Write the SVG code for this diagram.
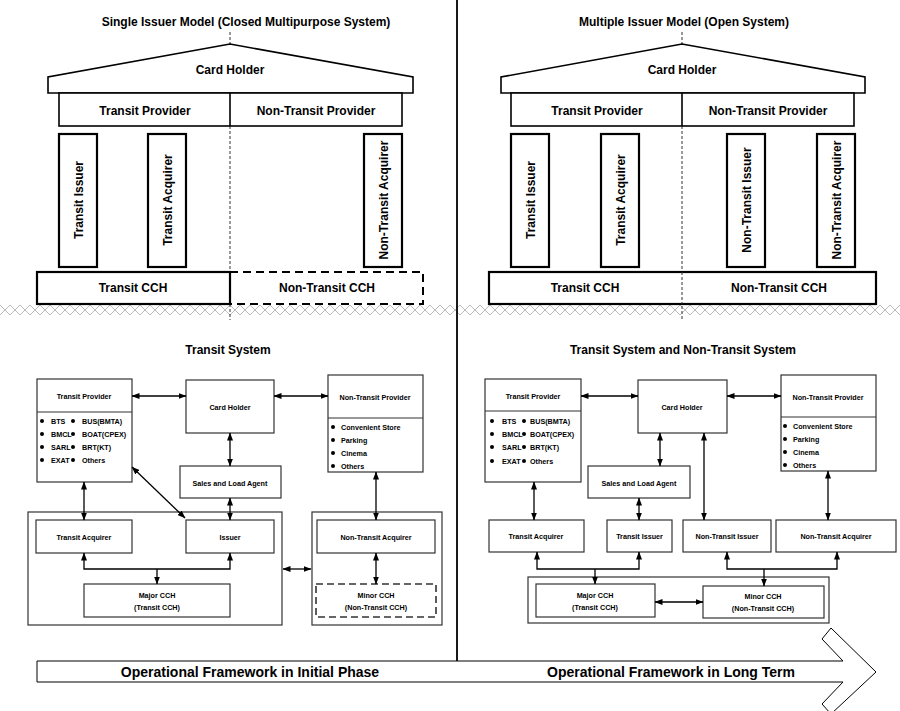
<svg xmlns="http://www.w3.org/2000/svg" width="900" height="711" viewBox="0 0 900 711">
<style>
text{font-family:"Liberation Sans",Arial,sans-serif;fill:#000}
.t12{font-size:12px;font-weight:bold;text-anchor:middle}
.t14{font-size:14px;font-weight:bold;text-anchor:middle}
.s{font-size:7.2px;font-weight:bold;text-anchor:middle}
.l{font-size:7.2px;font-weight:bold}
.thick{fill:#fff;stroke:#000;stroke-width:1.6}
.pil{fill:#fff;stroke:#000;stroke-width:2.2}
.box{fill:#fff;stroke:#333;stroke-width:1.2}
.dash{fill:none;stroke:#000;stroke-width:2;stroke-dasharray:8,5}
.cdash{fill:none;stroke:#333;stroke-width:1;stroke-dasharray:3,2}
.con{fill:none;stroke:#000;stroke-width:1.3}
.dot{fill:#000}
</style>
<defs>
<marker id="ah" markerUnits="userSpaceOnUse" markerWidth="8" markerHeight="6" refX="7.5" refY="3" orient="auto-start-reverse">
<path d="M0,0 L8,3 L0,6 z" fill="#000"/>
</marker>
<pattern id="zig" patternUnits="userSpaceOnUse" x="0" y="304" width="20" height="12">
<path d="M0,1 L10,11 L20,1 M0,11 L10,1 L20,11" fill="none" stroke="#aaa" stroke-width="0.8"/>
</pattern>
</defs>

<!-- background separators -->
<rect x="0" y="304" width="900" height="12" fill="url(#zig)"/>
<line x1="457" y1="0" x2="457" y2="661" stroke="#000" stroke-width="1.8"/>

<!-- ===== Top left: Single Issuer Model ===== -->
<g id="title-single"><text class="t12" x="246" y="26">Single Issuer Model (Closed Multipurpose System)</text></g>
<g id="axis-left">
<line class="cdash" x1="230" y1="32" x2="230" y2="44"/>
<line class="cdash" x1="230" y1="126" x2="230" y2="272"/>
<line class="cdash" x1="230" y1="304" x2="230" y2="320"/>
</g>
<g id="roof-left"><polygon class="thick" points="48,93 48,77 230,44 413,77 413,93"/><text class="t12" x="230" y="74">Card Holder</text></g>
<g id="providers-left">
<rect class="thick" x="59" y="93" width="343" height="33"/>
<line x1="230" y1="93" x2="230" y2="126" stroke="#000" stroke-width="1.6"/>
<text class="t12" x="145" y="115">Transit Provider</text>
<text class="t12" x="316" y="115">Non-Transit Provider</text>
</g>
<g id="pillar-l-ti"><rect class="pil" x="59" y="134" width="38" height="133"/><text class="t12" x="78" y="205" transform="rotate(-90 78 200)">Transit Issuer</text></g>
<g id="pillar-l-ta"><rect class="pil" x="148" y="134" width="38" height="133"/><text class="t12" x="167" y="205" transform="rotate(-90 167 200)">Transit Acquirer</text></g>
<g id="pillar-l-nta"><rect class="pil" x="364" y="134" width="38" height="133"/><text class="t12" x="383" y="205" transform="rotate(-90 383 200)">Non-Transit Acquirer</text></g>
<g id="cch-left">
<rect class="pil" x="37" y="272" width="193" height="32"/>
<text class="t12" x="133" y="292">Transit CCH</text>
</g>
<g id="ntcch-left">
<path class="dash" d="M230,272 H423 V304 H230"/>
<text class="t12" x="327" y="292">Non-Transit CCH</text>
</g>

<!-- ===== Top right: Multiple Issuer Model ===== -->
<g id="title-multi"><text class="t12" x="684" y="26">Multiple Issuer Model (Open System)</text></g>
<g id="axis-right">
<line class="cdash" x1="682" y1="32" x2="682" y2="44"/>
<line class="cdash" x1="682" y1="126" x2="682" y2="320"/>
</g>
<g id="roof-right"><polygon class="thick" points="501,93 501,77 682,44 865,77 865,93"/><text class="t12" x="682" y="74">Card Holder</text></g>
<g id="providers-right">
<rect class="thick" x="511" y="93" width="343" height="33"/>
<line x1="682" y1="93" x2="682" y2="126" stroke="#000" stroke-width="1.6"/>
<text class="t12" x="597" y="115">Transit Provider</text>
<text class="t12" x="768" y="115">Non-Transit Provider</text>
</g>
<g id="pillar-r-ti"><rect class="pil" x="511" y="134" width="38" height="133"/><text class="t12" x="530" y="205" transform="rotate(-90 530 200)">Transit Issuer</text></g>
<g id="pillar-r-ta"><rect class="pil" x="601" y="134" width="38" height="133"/><text class="t12" x="620" y="205" transform="rotate(-90 620 200)">Transit Acquirer</text></g>
<g id="pillar-r-nti"><rect class="pil" x="727" y="134" width="38" height="133"/><text class="t12" x="746" y="205" transform="rotate(-90 746 200)">Non-Transit Issuer</text></g>
<g id="pillar-r-nta"><rect class="pil" x="817" y="134" width="38" height="133"/><text class="t12" x="836" y="205" transform="rotate(-90 836 200)">Non-Transit Acquirer</text></g>
<g id="cch-right">
<rect class="pil" x="489" y="272" width="387" height="32"/>
<line class="cdash" x1="682" y1="272" x2="682" y2="304"/>
<text class="t12" x="585" y="292">Transit CCH</text>
<text class="t12" x="779" y="292">Non-Transit CCH</text>
</g>

<!-- ===== Bottom left: Transit System ===== -->
<g id="title-ts"><text class="t12" x="228" y="354">Transit System</text></g>
<g id="bl-outer-major"><rect class="box" x="28" y="512" width="254" height="113"/></g>
<g id="bl-outer-minor"><rect class="box" x="312" y="512" width="130" height="113"/></g>
<g id="bl-tp">
<rect class="box" x="37" y="379" width="95" height="103"/>
<line x1="37" y1="412" x2="132" y2="412" stroke="#333" stroke-width="1.2"/>
<text class="s" x="84" y="399">Transit Provider</text>
<circle class="dot" cx="42" cy="421" r="2"/><text class="l" x="51" y="423.6">BTS</text>
<circle class="dot" cx="73" cy="421" r="2"/><text class="l" x="82" y="423.6">BUS(BMTA)</text>
<circle class="dot" cx="42" cy="434" r="2"/><text class="l" x="51" y="436.6">BMCL</text>
<circle class="dot" cx="73" cy="434" r="2"/><text class="l" x="82" y="436.6">BOAT(CPEX)</text>
<circle class="dot" cx="42" cy="447" r="2"/><text class="l" x="51" y="449.6">SARL</text>
<circle class="dot" cx="73" cy="447" r="2"/><text class="l" x="82" y="449.6">BRT(KT)</text>
<circle class="dot" cx="42" cy="460" r="2"/><text class="l" x="51" y="462.6">EXAT</text>
<circle class="dot" cx="73" cy="460" r="2"/><text class="l" x="82" y="462.6">Others</text>
</g>
<g id="bl-ch"><rect class="box" x="186" y="380" width="88" height="53"/><text class="s" x="230" y="409.6">Card Holder</text></g>
<g id="bl-sales"><rect class="box" x="180" y="466" width="101" height="32"/><text class="s" x="230" y="485.6">Sales and Load Agent</text></g>
<g id="bl-ntp">
<rect class="box" x="328" y="375" width="95" height="97"/>
<line x1="328" y1="418" x2="423" y2="418" stroke="#333" stroke-width="1.2"/>
<text class="s" x="375" y="399.6">Non-Transit Provider</text>
<circle class="dot" cx="333" cy="427" r="2"/><text class="l" x="341" y="429.6">Convenient Store</text>
<circle class="dot" cx="333" cy="440" r="2"/><text class="l" x="341" y="442.6">Parking</text>
<circle class="dot" cx="333" cy="453" r="2"/><text class="l" x="341" y="455.6">Cinema</text>
<circle class="dot" cx="333" cy="466" r="2"/><text class="l" x="341" y="468.6">Others</text>
</g>
<g id="bl-ta"><rect class="box" x="36" y="520" width="96" height="33"/><text class="s" x="84" y="539.6">Transit Acquirer</text></g>
<g id="bl-issuer"><rect class="box" x="186" y="520" width="88" height="33"/><text class="s" x="230" y="539.6">Issuer</text></g>
<g id="bl-nta"><rect class="box" x="317" y="520" width="118" height="33"/><text class="s" x="376" y="539.6">Non-Transit Acquirer</text></g>
<g id="bl-major"><rect class="box" x="84" y="584" width="146" height="33"/><text class="s" x="157" y="597.6">Major CCH</text><text class="s" x="157" y="609.6">(Transit CCH)</text></g>
<g id="bl-minor"><rect x="316" y="584" width="120" height="33" fill="#fff" stroke="#333" stroke-width="1.6" stroke-dasharray="7,4"/><text class="s" x="376" y="597.6">Minor CCH</text><text class="s" x="376" y="609.6">(Non-Transit CCH)</text></g>

<!-- ===== Bottom right: Transit System and Non-Transit System ===== -->
<g id="title-tnts"><text class="t12" x="683" y="354">Transit System and Non-Transit System</text></g>
<g id="br-outer"><rect class="box" x="528" y="577" width="301" height="46"/></g>
<g id="br-tp">
<rect class="box" x="485" y="379" width="96" height="103"/>
<line x1="485" y1="411" x2="581" y2="411" stroke="#333" stroke-width="1.2"/>
<text class="s" x="533" y="398.6">Transit Provider</text>
<circle class="dot" cx="492" cy="421" r="2"/><text class="l" x="502" y="423.6">BTS</text>
<circle class="dot" cx="524" cy="421" r="2"/><text class="l" x="530" y="423.6">BUS(BMTA)</text>
<circle class="dot" cx="492" cy="434" r="2"/><text class="l" x="502" y="436.6">BMCL</text>
<circle class="dot" cx="524" cy="434" r="2"/><text class="l" x="530" y="436.6">BOAT(CPEX)</text>
<circle class="dot" cx="492" cy="447" r="2"/><text class="l" x="502" y="449.6">SARL</text>
<circle class="dot" cx="524" cy="447" r="2"/><text class="l" x="530" y="449.6">BRT(KT)</text>
<circle class="dot" cx="492" cy="461" r="2"/><text class="l" x="502" y="463.6">EXAT</text>
<circle class="dot" cx="524" cy="461" r="2"/><text class="l" x="530" y="463.6">Others</text>
</g>
<g id="br-ch"><rect class="box" x="638" y="380" width="89" height="53"/><text class="s" x="682" y="409.6">Card Holder</text></g>
<g id="br-sales"><rect class="box" x="588" y="466" width="102" height="32"/><text class="s" x="639" y="485.6">Sales and Load Agent</text></g>
<g id="br-ntp">
<rect class="box" x="781" y="375" width="95" height="96"/>
<line x1="781" y1="417" x2="876" y2="417" stroke="#333" stroke-width="1.2"/>
<text class="s" x="828" y="399.6">Non-Transit Provider</text>
<circle class="dot" cx="785" cy="426" r="2"/><text class="l" x="793" y="428.6">Convenient Store</text>
<circle class="dot" cx="785" cy="439" r="2"/><text class="l" x="793" y="441.6">Parking</text>
<circle class="dot" cx="785" cy="452" r="2"/><text class="l" x="793" y="454.6">Cinema</text>
<circle class="dot" cx="785" cy="465" r="2"/><text class="l" x="793" y="467.6">Others</text>
</g>
<g id="br-ta"><rect class="box" x="489" y="520" width="95" height="32"/><text class="s" x="536" y="539">Transit Acquirer</text></g>
<g id="br-ti"><rect class="box" x="607" y="520" width="65" height="32"/><text class="s" x="639.5" y="539">Transit Issuer</text></g>
<g id="br-nti"><rect class="box" x="683" y="520" width="88" height="32"/><text class="s" x="727" y="539">Non-Transit Issuer</text></g>
<g id="br-nta"><rect class="box" x="776" y="520" width="120" height="32"/><text class="s" x="836" y="539">Non-Transit Acquirer</text></g>
<g id="br-major"><rect class="box" x="536" y="584" width="119" height="33"/><text class="s" x="595" y="597.6">Major CCH</text><text class="s" x="595" y="609.6">(Transit CCH)</text></g>
<g id="br-minor"><rect class="box" x="703" y="586" width="121" height="32"/><text class="s" x="763" y="598.6">Minor CCH</text><text class="s" x="763" y="610.6">(Non-Transit CCH)</text></g>

<!-- ===== Connectors ===== -->
<g id="connectors">
<line class="con" x1="132" y1="396" x2="186" y2="396" marker-start="url(#ah)" marker-end="url(#ah)"/>
<line class="con" x1="274" y1="396" x2="328" y2="396" marker-start="url(#ah)" marker-end="url(#ah)"/>
<line class="con" x1="230" y1="433" x2="230" y2="466" marker-start="url(#ah)" marker-end="url(#ah)"/>
<line class="con" x1="84" y1="482" x2="84" y2="520" marker-start="url(#ah)" marker-end="url(#ah)"/>
<line class="con" x1="132" y1="467" x2="185" y2="518" marker-start="url(#ah)" marker-end="url(#ah)"/>
<line class="con" x1="230" y1="498" x2="230" y2="520" marker-start="url(#ah)" marker-end="url(#ah)"/>
<line class="con" x1="376" y1="472" x2="376" y2="520" marker-start="url(#ah)" marker-end="url(#ah)"/>
<polyline class="con" points="84,553 84,569 230,569 230,553" marker-start="url(#ah)" marker-end="url(#ah)"/>
<line class="con" x1="157" y1="569" x2="157" y2="584" marker-end="url(#ah)"/>
<line class="con" x1="283" y1="569" x2="311" y2="569" marker-start="url(#ah)" marker-end="url(#ah)"/>
<line class="con" x1="376" y1="553" x2="376" y2="584" marker-start="url(#ah)" marker-end="url(#ah)"/>

<line class="con" x1="581" y1="396" x2="638" y2="396" marker-start="url(#ah)" marker-end="url(#ah)"/>
<line class="con" x1="727" y1="396" x2="781" y2="396" marker-start="url(#ah)" marker-end="url(#ah)"/>
<line class="con" x1="660" y1="433" x2="660" y2="466" marker-start="url(#ah)" marker-end="url(#ah)"/>
<line class="con" x1="704" y1="433" x2="704" y2="520" marker-start="url(#ah)" marker-end="url(#ah)"/>
<line class="con" x1="534" y1="482" x2="534" y2="520" marker-start="url(#ah)" marker-end="url(#ah)"/>
<line class="con" x1="639" y1="498" x2="639" y2="520" marker-start="url(#ah)" marker-end="url(#ah)"/>
<line class="con" x1="828" y1="471" x2="828" y2="520" marker-start="url(#ah)" marker-end="url(#ah)"/>
<polyline class="con" points="537,552 537,569 639,569 639,552" marker-start="url(#ah)" marker-end="url(#ah)"/>
<line class="con" x1="595" y1="569" x2="595" y2="584" marker-end="url(#ah)"/>
<polyline class="con" points="727,552 727,569 837,569 837,552" marker-start="url(#ah)" marker-end="url(#ah)"/>
<line class="con" x1="764" y1="569" x2="764" y2="586" marker-end="url(#ah)"/>
<line class="con" x1="655" y1="602" x2="703" y2="602" marker-start="url(#ah)" marker-end="url(#ah)"/>
</g>

<!-- ===== Timeline arrow ===== -->
<g id="timeline">
<polygon points="37,661 843,661 822,639 831,628 876,672 831,714 822,704 843,682 37,682" fill="#fff" stroke="#000" stroke-width="1"/>
<text class="t14" x="250" y="677">Operational Framework in Initial Phase</text>
<text class="t14" x="671" y="677">Operational Framework in Long Term</text>
</g>
</svg>
